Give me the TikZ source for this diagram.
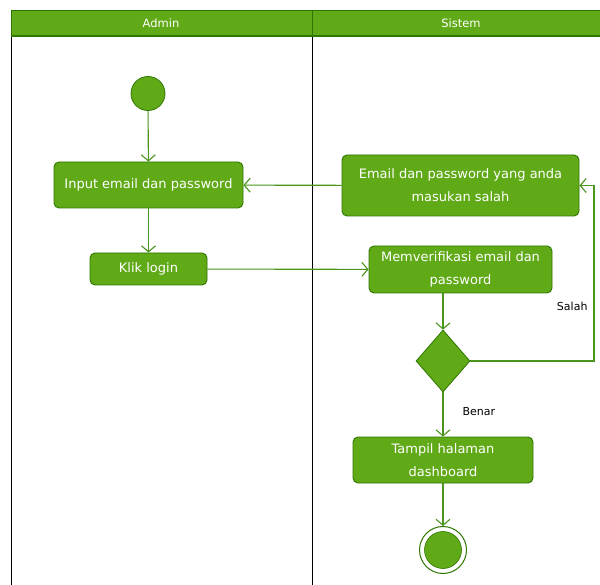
\documentclass[tikz,border=0pt]{standalone}
\usepackage{fontspec}
\setmainfont{DejaVu Sans}
\usetikzlibrary{shapes.geometric,arrows.meta}
\definecolor{gfill}{HTML}{60A917}
\definecolor{gdark}{HTML}{2D7600}
\definecolor{gline}{HTML}{4A951C}
\tikzset{
  act/.style={draw=gdark, fill=gfill, rounded corners=5pt, text=white, align=center,
    font=\fontsize{13}{23}\selectfont, inner sep=0pt, line width=0.9pt},
  flow/.style={draw=gline, line width=1.1pt, -{Straight Barb[length=6pt,width=14pt]}},
  lanehead/.style={text=white, font=\fontsize{11.5}{14}\selectfont},
  lbl/.style={text=black, font=\fontsize{11}{13}\selectfont},
}
\begin{document}
\begin{tikzpicture}[x=1pt,y=-1pt]
\useasboundingbox (0,0) rectangle (600,585);
% swimlanes
\fill[white] (0,0) rectangle (600,585);
\draw[black, line width=1.1pt] (11.5,36) -- (11.5,590);
\draw[black, line width=1.1pt] (312.5,36) -- (312.5,590);
\draw[draw=gdark, fill=gfill, line width=1.1pt] (11.5,10.5) rectangle (605,36);
\draw[gdark, line width=1.1pt] (312.5,10.5) -- (312.5,36);
\node[lanehead] (hadmin) at (161,23) {Admin};
\node[lanehead] (hsistem) at (461,23) {Sistem};
% nodes
\node[circle, draw=gdark, fill=gfill, minimum size=34pt, inner sep=0pt, line width=0.8pt] (start) at (148,93.5) {};
\node[act, minimum width=189pt, minimum height=46pt] (input) at (148.5,185) {Input email dan password};
\node[act, minimum width=117pt, minimum height=32pt] (klik) at (148.5,269) {Klik login};
\node[act, minimum width=237pt, minimum height=61pt] (salah) at (460.5,185.5) {Email dan password yang anda\\masukan salah};
\node[act, minimum width=183pt, minimum height=47pt] (verif) at (460.5,269.5) {Memverifikasi email dan\\password};
\node[diamond, draw=gdark, fill=gfill, minimum width=54pt, minimum height=62pt, inner sep=0pt, line width=0.8pt] (dia) at (443,361) {};
\node[act, minimum width=180pt, minimum height=46pt] (tampil) at (443,460) {Tampil halaman\\dashboard};
\node[circle, draw=gdark, line width=1pt, minimum size=47pt, inner sep=0pt] (end) at (443,550) {};
\node[circle, draw=gdark, fill=gfill, minimum size=37pt, inner sep=0pt, line width=0.6pt] (endin) at (443,550) {};
\coordinate (loop) at (594,361);
% connectors
\draw[flow] (start) -- (input);
\draw[flow] (input) -- (klik);
\draw[flow] (salah) -- (input);
\draw[flow] (klik) -- (verif);
\draw[flow] (verif.south -| dia.north) -- (dia.north);
\draw[flow] (dia.south) -- (tampil.north);
\draw[flow] (tampil.south) -- (end.north);
\draw[flow] (dia.east) -- (loop) |- (salah.east);
\node[lbl, anchor=east] (lsalah) at (591,306) {Salah};
\node[lbl, anchor=west] (lbenar) at (459,412) {Benar};
\end{tikzpicture}
\end{document}
